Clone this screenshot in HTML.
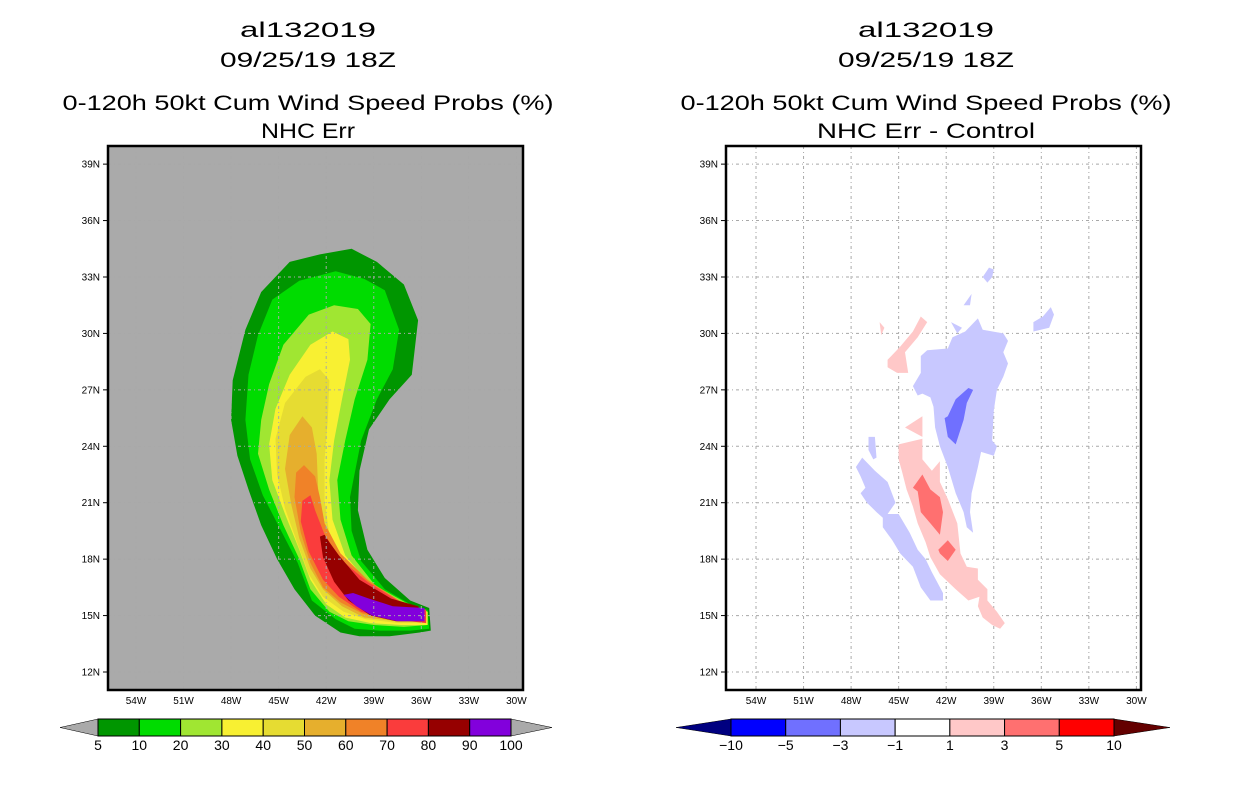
<!DOCTYPE html>
<html><head><meta charset="utf-8"><style>
html,body{margin:0;padding:0;background:#fff;}
svg{display:block;font-family:"Liberation Sans",sans-serif;}
</style></head><body>
<svg id="root" width="1236" height="800" viewBox="0 0 1236 800"></svg>
<script>
// ---------- data ----------
const latTicks = [39,36,33,30,27,24,21,18,15,12];
const lonTicks = [54,51,48,45,42,39,36,33,30];
const probLevels = ["5","10","20","30","40","50","60","70","80","90","100"];
const probColors = ["#009600","#00dc00","#a0e632","#f8f032","#e6dc32","#e6af2d","#f08228","#fa3c3c","#960000","#8200dc"];
const diffLevels = ["\u221210","\u22125","\u22123","\u22121","1","3","5","10"];
const diffColors = ["#0000ff","#7070ff","#c8c8ff","#ffffff","#ffc8c8","#ff7070","#ff0000"];
// contour polygons [lonW, latN]
const p05 = [[35.5,15.4],[35.4,14.2],[36.1,14.1],[38.0,13.9],[39.9,13.9],[41.1,14.1],[42.7,15.0],[44.0,16.4],[45.1,18.0],[46.1,19.8],[46.9,21.7],[47.6,23.5],[48.0,25.4],[47.9,27.5],[47.1,30.2],[46.1,32.2],[44.3,33.8],[42.4,34.2],[40.4,34.5],[38.8,33.8],[37.1,32.6],[36.2,30.7],[36.6,27.8],[38.0,26.5],[39.3,24.9],[39.9,22.7],[40.0,20.6],[39.4,18.5],[38.3,17.0],[36.7,15.8]];
const p10 = [[35.6,15.3],[35.5,14.3],[36.7,14.2],[38.6,14.2],[40.2,14.3],[41.4,14.8],[42.9,15.8],[43.8,17.8],[44.9,19.6],[46.0,21.4],[46.8,23.3],[47.1,25.4],[46.9,27.8],[46.3,29.9],[45.4,31.8],[43.7,32.8],[41.4,33.3],[39.6,32.9],[38.3,32.3],[37.4,30.2],[37.8,28.1],[38.8,26.5],[39.8,24.3],[40.5,21.3],[40.4,19.5],[39.8,17.9],[38.3,16.4],[36.7,15.6]];
const p20 = [[35.6,15.2],[35.6,14.5],[37.1,14.4],[39.0,14.5],[40.6,14.7],[41.8,15.2],[43.0,16.4],[43.7,18.0],[44.7,19.8],[45.6,21.7],[46.3,23.6],[46.1,25.4],[45.6,27.3],[44.7,29.4],[43.1,31.0],[41.5,31.5],[40.0,31.3],[39.2,30.5],[39.4,28.6],[40.2,26.5],[40.8,24.3],[41.3,22.2],[41.1,20.1],[40.4,18.2],[38.9,16.6],[37.0,15.7]];
const p30 = [[35.6,15.2],[35.6,14.5],[37.3,14.5],[39.2,14.6],[40.8,14.9],[42.0,15.6],[43.0,16.9],[43.7,18.5],[44.6,20.4],[45.4,22.2],[45.6,24.1],[45.2,26.0],[44.3,27.8],[43.0,29.4],[41.6,30.1],[40.6,29.7],[40.5,28.6],[41.0,26.5],[41.5,24.3],[41.8,22.2],[41.6,20.1],[40.8,18.2],[39.2,16.6],[37.3,15.7]];
const p40 = [[35.7,15.1],[35.7,14.6],[37.4,14.6],[39.5,14.8],[40.9,15.2],[42.2,16.0],[43.1,17.2],[43.8,18.8],[44.6,20.7],[45.1,22.5],[45.2,24.4],[44.6,26.3],[43.3,27.7],[42.4,28.1],[41.8,27.5],[41.9,25.4],[42.1,23.3],[42.1,21.1],[41.8,19.3],[40.8,17.7],[39.1,16.4],[37.4,15.6]];
const p50 = [[35.7,15.1],[35.7,14.7],[37.5,14.7],[39.6,14.9],[41.0,15.5],[42.2,16.4],[43.0,17.5],[43.7,19.1],[44.2,20.9],[44.6,22.8],[44.3,24.6],[43.5,25.6],[42.9,25.0],[42.6,23.6],[42.5,21.5],[42.1,19.9],[41.1,18.3],[39.5,17.0],[37.6,15.7]];
const p60 = [[35.8,15.0],[35.8,14.7],[37.7,14.8],[39.7,15.1],[41.1,15.7],[42.2,16.5],[43.0,17.8],[43.6,19.4],[44.0,21.3],[43.9,22.6],[43.4,23.0],[42.7,22.4],[42.4,21.3],[42.1,19.9],[41.1,18.3],[39.4,16.9],[37.4,15.8]];
const p70 = [[35.7,15.3],[35.7,14.6],[37.8,14.8],[39.8,15.2],[41.2,16.0],[42.2,16.9],[43.1,18.4],[43.6,20.0],[43.5,21.1],[43.0,21.4],[42.7,20.6],[42.1,19.3],[41.1,18.0],[39.4,16.8],[37.3,15.7]];
const p80 = [[35.9,15.1],[35.8,14.7],[37.6,14.7],[39.2,15.0],[40.6,15.8],[41.5,16.8],[42.2,18.1],[42.4,19.2],[42.1,19.3],[41.8,18.9],[41.2,18.2],[39.9,16.9],[37.9,15.9],[36.2,15.5]];
const p90 = [[40.9,16.1],[40.3,16.2],[39.3,15.9],[37.8,15.5],[35.8,15.4],[35.8,14.7],[37.5,14.7],[39.1,15.0],[40.1,15.5]];
const probPolys = [p05,p10,p20,p30,p40,p50,p60,p70,p80,p90];
// difference field polygons (value class index into diffColors)
const dBlueBig = [[43.6,28.8],[43.2,29.1],[41.9,29.2],[41.6,29.8],[40.8,30.1],[40.0,30.8],[39.7,30.2],[38.4,30.0],[38.1,29.6],[38.4,29.0],[38.1,28.4],[38.4,27.7],[38.8,27.0],[39.0,25.9],[39.1,24.3],[38.8,24.0],[39.0,23.5],[39.8,23.7],[40.0,22.9],[40.4,21.5],[40.5,20.5],[40.3,19.4],[40.7,19.7],[40.9,20.5],[41.4,21.5],[41.9,22.9],[42.4,24.0],[42.7,25.0],[42.8,26.1],[43.0,26.6],[43.5,26.8],[43.8,26.7],[44.1,27.2],[43.6,27.9]];
const dBlueLow = [[47.7,22.9],[47.3,23.4],[46.5,22.7],[45.7,22.1],[45.2,21.0],[45.7,20.4],[45.0,20.4],[44.3,19.4],[43.8,18.5],[43.3,18.0],[42.9,17.3],[42.2,16.2],[42.2,15.8],[43.0,15.8],[43.6,16.5],[44.1,17.6],[44.9,18.3],[45.4,19.0],[46.0,19.7],[46.0,20.2],[46.4,20.5],[47.0,21.0],[47.4,21.5],[47.1,21.8],[47.4,22.4]];
const dBlueNE = [[36.5,30.6],[35.9,30.9],[35.4,31.4],[35.2,31.0],[35.5,30.3],[36.5,30.1]];
const dBlueTop = [[39.7,33.0],[39.3,33.5],[39.0,33.4],[39.1,33.0],[39.4,32.7]];
const dBlueA = [[41.7,30.6],[41.0,30.3],[41.3,30.0]];
const dBlueB = [[40.9,31.5],[40.4,32.1],[40.5,31.5]];
const dBlueW = [[46.9,24.5],[46.5,24.5],[46.4,23.4],[46.6,23.3],[46.9,23.8]];
const dBlueDark = [[41.9,25.6],[41.4,26.5],[40.6,27.1],[40.3,27.0],[40.7,26.3],[40.9,25.4],[41.4,24.1],[41.9,24.5],[42.1,25.5]];
const dPinkMain = [[45.0,24.1],[43.5,24.4],[43.5,23.3],[42.9,22.7],[42.4,23.2],[42.4,22.1],[41.9,21.2],[41.3,19.9],[41.1,18.3],[40.7,17.6],[40.0,17.5],[40.0,16.9],[39.4,16.4],[39.4,15.8],[38.8,15.2],[38.3,14.6],[38.6,14.3],[39.1,14.5],[39.7,14.9],[40.0,15.5],[39.9,16.0],[40.6,15.8],[41.4,16.4],[42.4,17.2],[43.0,18.1],[43.3,18.9],[43.8,19.9],[44.1,20.8],[44.5,21.7],[44.8,22.7],[45.0,23.3]];
const dPinkArm = [[45.7,28.6],[44.9,29.3],[44.1,30.1],[43.6,30.9],[43.2,30.6],[43.8,29.8],[44.6,29.0],[44.4,27.9],[45.1,27.9],[45.7,28.2]];
const dPinkTri = [[44.6,25.0],[43.5,25.6],[43.5,24.5]];
const dPinkDot = [[46.2,30.6],[45.9,30.3],[46.1,29.9]];
const dRedA = [[44.1,21.8],[43.5,22.5],[43.0,21.7],[42.4,21.3],[42.2,20.5],[42.4,19.3],[43.0,19.9],[43.6,20.5],[43.8,21.6]];
const dRedB = [[42.5,18.5],[41.9,19.0],[41.4,18.5],[41.9,17.9],[42.4,18.3]];
const diffPolys = [[dBlueBig,2],[dBlueLow,2],[dBlueNE,2],[dBlueTop,2],[dBlueA,2],[dBlueB,2],[dBlueW,2],[dBlueDark,1],[dPinkMain,4],[dPinkArm,4],[dPinkTri,4],[dPinkDot,4],[dRedA,5],[dRedB,5]];

// ---------- helpers ----------
const NS="http://www.w3.org/2000/svg";
const root=document.getElementById('root');
function mk(tag,attrs,parent){const e=document.createElementNS(NS,tag);for(const k in attrs)e.setAttribute(k,attrs[k]);(parent||root).appendChild(e);return e;}
const panels=[{x0:108,x1:523,lon0x:136,bg:"#aaaaaa",cx:308,name:"left"},{x0:726,x1:1141,lon0x:756,bg:"#ffffff",cx:926,name:"right"}];
const Y0=146,Y1=690,LONPX=15.85,LATPX=18.81;
function yOf(lat){return 672-(lat-12)*LATPX;}
function xOf(p,lonW){return p.lon0x+(54-lonW)*LONPX;}
function pts(p,poly){return poly.map(q=>xOf(p,q[0]).toFixed(1)+","+yOf(q[1]).toFixed(1)).join(" ");}

function titles(p,lines){
  const ys=[37,67,110,138];
  lines.forEach((t,i)=>{
    const e=mk('text',{x:p.cx,y:ys[i],'text-anchor':'middle','font-size':21,fill:'#000',textLength:t[1],lengthAdjust:'spacingAndGlyphs'});
    e.textContent=t[0];
    
    
  });
}

function frame(p){
  const g=mk('g',{});
  
  
  const bg=mk('rect',{x:p.x0,y:Y0,width:p.x1-p.x0,height:Y1-Y0,fill:p.bg},g);
  
  
  return g;
}
function grid(p,g){
  const gg=mk('g',{stroke:'#a8a8a8','stroke-width':1,'stroke-dasharray':'3,3,1,3',fill:'none'},g);
  
  
  lonTicks.forEach(l=>{const x=xOf(p,l);mk('line',{x1:x,x2:x,y1:Y0,y2:Y1},gg);});
  latTicks.forEach(l=>{const y=yOf(l);mk('line',{x1:p.x0,x2:p.x1,y1:y,y2:y},gg);});
}
function axes(p,g){
  const b=mk('rect',{x:p.x0,y:Y0,width:p.x1-p.x0,height:Y1-Y0,fill:'none',stroke:'#000','stroke-width':2.5},g);
  
  
  latTicks.forEach(l=>{
    const y=yOf(l);
    mk('line',{x1:p.x0-5,x2:p.x0,y1:y,y2:y,stroke:'#000','stroke-width':1},g);
    const t=mk('text',{x:p.x0-8,y:y+3.5,'text-anchor':'end','font-size':10,fill:'#000'},g);
    t.textContent=l+"N";
    
    
  });
  lonTicks.forEach(l=>{
    const t=mk('text',{x:xOf(p,l),y:704,'text-anchor':'middle','font-size':10,fill:'#000'},g);
    t.textContent=l+"W";
    
    
  });
}
function colorbar(name,bx0,bx1,tx0,tx1,colors,labels,lowC,highC){
  const g=mk('g',{});
  
  
  const y0=719,y1=736,ym=(y0+y1)/2,w=(bx1-bx0)/colors.length;
  const a=mk('polygon',{points:`${bx0},${y0} ${tx0},${ym} ${bx0},${y1}`,fill:lowC,stroke:'#000','stroke-width':0.5},g);
  
  
  const b=mk('polygon',{points:`${bx1},${y0} ${tx1},${ym} ${bx1},${y1}`,fill:highC,stroke:'#000','stroke-width':0.5},g);
  
  
  colors.forEach((c,i)=>{
    const r=mk('rect',{x:bx0+i*w,y:y0,width:w,height:y1-y0,fill:c,stroke:'#000','stroke-width':1},g);
    
    
  });
  labels.forEach((s,i)=>{
    const t=mk('text',{x:bx0+i*w,y:750,'text-anchor':'middle','font-size':14,fill:'#000'},g);
    t.textContent=s;
    
    
  });
}

// ---------- left panel ----------
const L=panels[0];
titles(L,[["al132019",136],["09/25/19 18Z",176],["0-120h 50kt Cum Wind Speed Probs (%)",491],["NHC Err",94]]);
const gL=frame(L);
probPolys.forEach((poly,i)=>{
  const e=mk('polygon',{points:pts(L,poly),fill:probColors[i]},gL);
  
  
});
grid(L,gL);
axes(L,gL);
colorbar('left',98,511,60,552,probColors,probLevels,'#aaaaaa','#aaaaaa');

// ---------- right panel ----------
const R=panels[1];
titles(R,[["al132019",136],["09/25/19 18Z",176],["0-120h 50kt Cum Wind Speed Probs (%)",491],["NHC Err - Control",218]]);
const gR=frame(R);
grid(R,gR);
diffPolys.forEach(d=>{
  const e=mk('polygon',{points:pts(R,d[0]),fill:diffColors[d[1]]},gR);
  
  
});
axes(R,gR);
colorbar('right',731,1114,676,1170,diffColors,diffLevels,'#000080','#640000');
</script>
</body></html>
